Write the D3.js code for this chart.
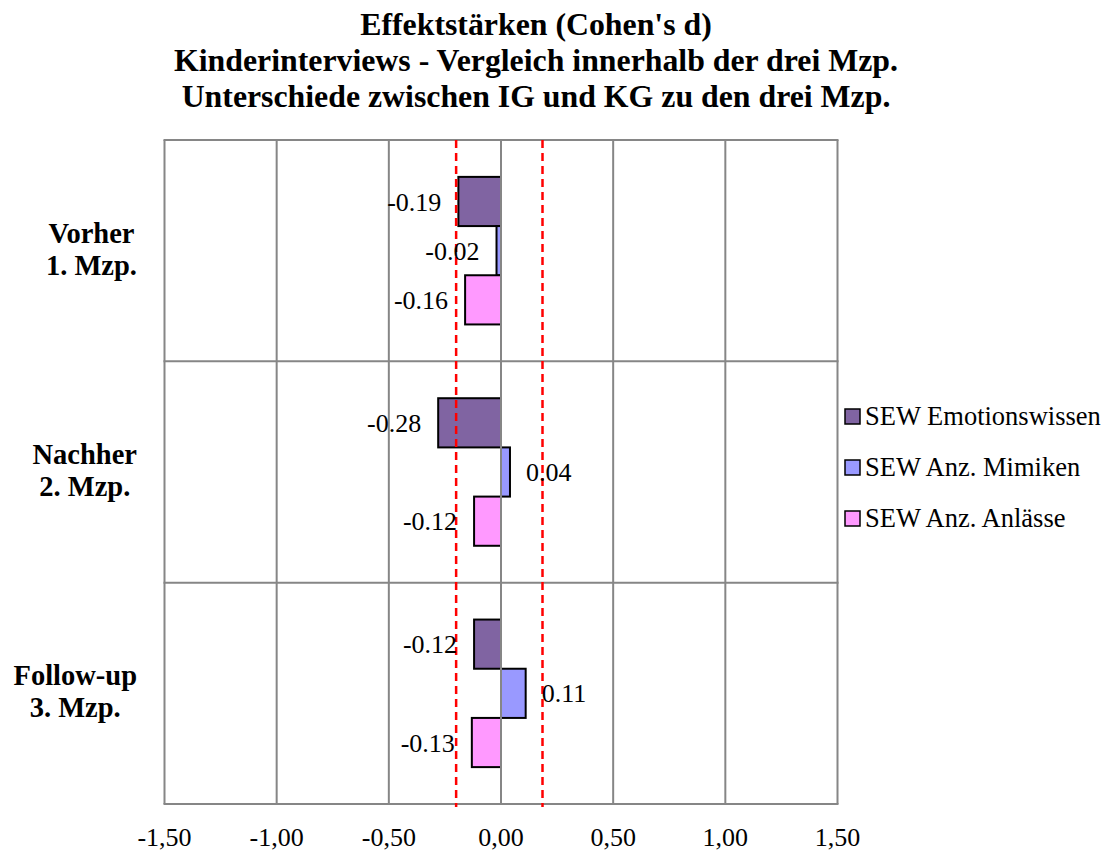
<!DOCTYPE html>
<html>
<head>
<meta charset="utf-8">
<script src="https://cdn.jsdelivr.net/npm/d3@7"></script>
<style>
	body { margin: 0; background: white; }
	svg { display: block; font-family: "Liberation Serif", "Times New Roman", serif; }
</style>
</head>
<body>
<script>
const width = 1109;
const height = 852;

// data
const categories = ["Vorher|1. Mzp.", "Nachher|2. Mzp.", "Follow-up|3. Mzp."];
const seriesNames = ["SEW Emotionswissen", "SEW Anz. Mimiken", "SEW Anz. Anlässe"];
const emotionswissen = [-0.19, -0.28, -0.12];
const mimiken = [-0.02, 0.04, 0.11];
const anlaesse = [-0.16, -0.12, -0.13];
const xTicks = [-1.5, -1.0, -0.5, 0, 0.5, 1.0, 1.5];
const thresholds = [-0.2, 0.185];
const titleLines = [
	"Effektstärken (Cohen's d)",
	"Kinderinterviews - Vergleich innerhalb der drei Mzp.",
	"Unterschiede zwischen IG und KG zu den drei Mzp."
];

const COLORS = ["#8064a2", "#9999ff", "#ff99ff"];
const GRID = "#868686";

const plot = { left: 164.5, right: 837.5, top: 140, bottom: 804 };

const svg = d3.select("body")
	.append("svg")
	.attr("width", width)
	.attr("height", height);

const x = d3.scaleLinear()
	.domain([-1.5, 1.5])
	.range([plot.left, plot.right]);

const y = d3.scaleBand()
	.domain(categories)
	.range([plot.top, plot.bottom]);

const ySeries = d3.scaleBand()
	.domain(seriesNames)
	.range([0, y.bandwidth()])
	.paddingInner(0)
	.paddingOuter(0.75);

const values = [emotionswissen, mimiken, anlaesse];
const bars = [];
categories.forEach(function (c, i) {
	seriesNames.forEach(function (s, j) {
		bars.push({ cat: c, series: s, value: values[j][i], color: COLORS[j] });
	});
});

// title
svg.append("text")
	.attr("x", 536)
	.attr("y", 35)
	.attr("text-anchor", "middle")
	.attr("font-size", "31.8px")
	.attr("font-weight", "bold")
	.selectAll("tspan")
	.data(titleLines)
	.enter()
	.append("tspan")
	.attr("x", 536)
	.attr("dy", function (d, i) { return i === 0 ? 0 : 36; })
	.text(function (d) { return d; });

// bars
svg.append("g")
	.selectAll("rect")
	.data(bars)
	.enter()
	.append("rect")
	.attr("x", function (d) { return x(Math.min(0, d.value)); })
	.attr("y", function (d) { return y(d.cat) + ySeries(d.series); })
	.attr("width", function (d) { return Math.abs(x(d.value) - x(0)); })
	.attr("height", ySeries.bandwidth())
	.attr("fill", function (d) { return d.color; })
	.attr("stroke", "black")
	.attr("stroke-width", 2);

// grid: vertical lines at ticks, horizontal at category borders
const grid = svg.append("g")
	.attr("stroke", GRID)
	.attr("stroke-width", 2);

grid.selectAll(".v")
	.data(xTicks)
	.enter()
	.append("line")
	.attr("x1", function (d) { return x(d); })
	.attr("x2", function (d) { return x(d); })
	.attr("y1", plot.top)
	.attr("y2", plot.bottom);

const borders = categories.map(function (c) { return y(c); }).concat([plot.bottom]);
grid.selectAll(".h")
	.data(borders)
	.enter()
	.append("line")
	.attr("x1", plot.left - 1)
	.attr("x2", plot.right + 1)
	.attr("y1", function (d) { return d; })
	.attr("y2", function (d) { return d; });

// red dashed threshold lines
svg.append("g")
	.selectAll("line")
	.data(thresholds)
	.enter()
	.append("line")
	.attr("x1", function (d) { return x(d); })
	.attr("x2", function (d) { return x(d); })
	.attr("y1", plot.top)
	.attr("y2", plot.bottom + 3)
	.attr("stroke", "#ff0000")
	.attr("stroke-width", 2.5)
	.attr("stroke-dasharray", "8,5");

// value labels
svg.append("g")
	.selectAll("text")
	.data(bars)
	.enter()
	.append("text")
	.attr("x", function (d) { return d.value < 0 ? x(d.value) - 17 : x(d.value) + 16; })
	.attr("y", function (d) { return y(d.cat) + ySeries(d.series) + ySeries.bandwidth() / 2; })
	.attr("dy", "0.35em")
	.attr("text-anchor", function (d) { return d.value < 0 ? "end" : "start"; })
	.attr("font-size", "26px")
	.text(function (d) { return d3.format(".2f")(d.value).replace("−", "-"); });

// x axis tick labels
const locale = d3.formatLocale({ decimal: ",", thousands: ".", grouping: [3], currency: ["", ""], minus: "-" });
const tickFormat = locale.format(".2f");

svg.append("g")
	.selectAll("text")
	.data(xTicks)
	.enter()
	.append("text")
	.attr("x", function (d) { return x(d); })
	.attr("y", 846)
	.attr("text-anchor", "middle")
	.attr("font-size", "26px")
	.text(function (d) { return tickFormat(d); });

// category labels, lines centered, block right aligned
const catGroup = svg.append("g")
	.attr("font-size", "28.5px")
	.attr("font-weight", "bold");

categories.forEach(function (c) {
	const lines = c.split("|");
	const mid = y(c) + y.bandwidth() / 2;
	const t = catGroup.append("text")
		.attr("text-anchor", "middle");
	lines.forEach(function (l, i) {
		t.append("tspan")
			.attr("y", mid - 8 + i * 32)
			.text(l);
	});
	let w = 0;
	t.selectAll("tspan").each(function () {
		w = Math.max(w, this.getComputedTextLength());
	});
	t.selectAll("tspan").attr("x", 137 - w / 2);
});

// legend
const legend = svg.append("g")
	.selectAll("g")
	.data(seriesNames)
	.enter()
	.append("g")
	.attr("transform", function (d, i) { return "translate(845," + (425 + i * 51) + ")"; });

legend.append("rect")
	.attr("x", 0)
	.attr("y", -16)
	.attr("width", 15)
	.attr("height", 15)
	.attr("fill", function (d, i) { return COLORS[i]; })
	.attr("stroke", "black")
	.attr("stroke-width", 1.5);

legend.append("text")
	.attr("x", 20)
	.attr("y", 0)
	.attr("font-size", "26.5px")
	.text(function (d) { return d; });
</script>
</body>
</html>
